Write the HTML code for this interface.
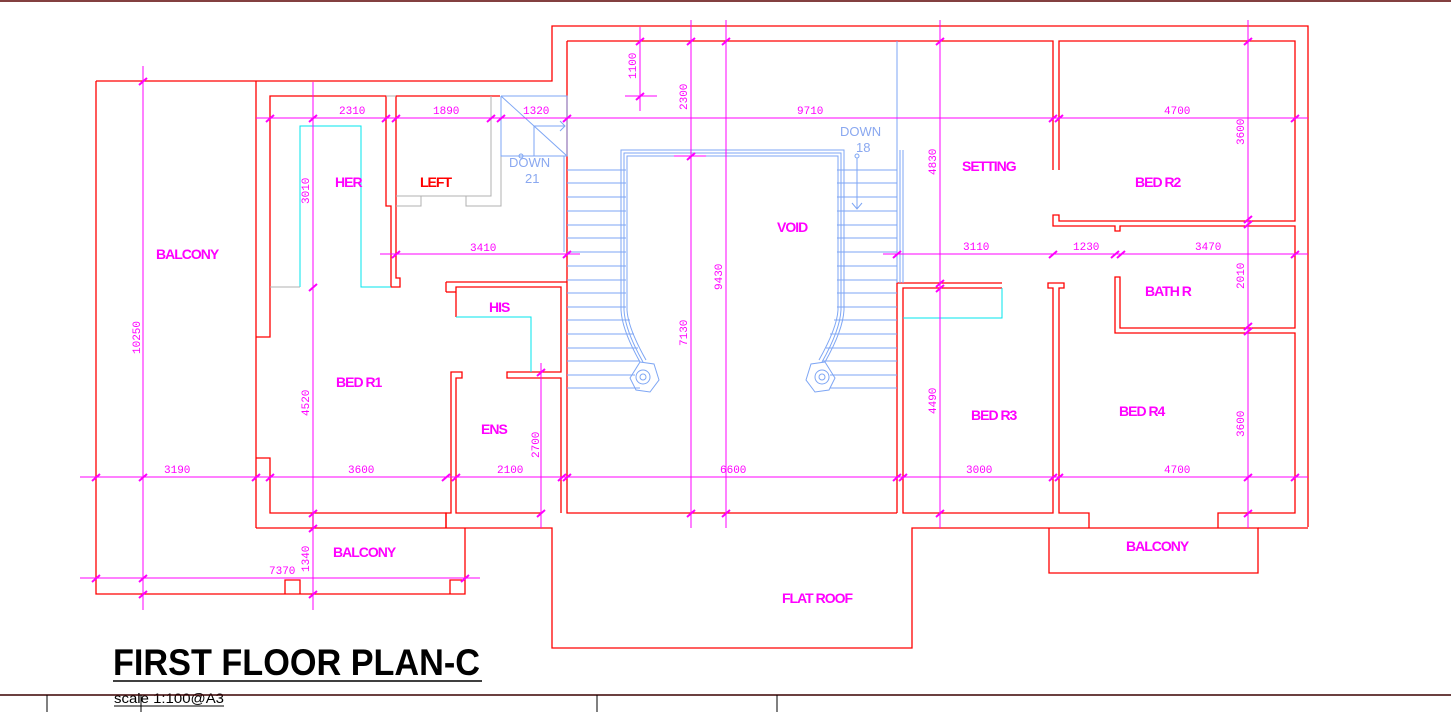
<!DOCTYPE html>
<html><head><meta charset="utf-8"><style>
html,body{margin:0;padding:0;background:#fff;}
svg{display:block;}
.w{stroke:#ff0000;stroke-width:1.3;fill:none;}
.d{stroke:#ff00ff;stroke-width:1;fill:none;}
.b{stroke:#7ea6f4;stroke-width:1;fill:none;}
.c{stroke:#00e5ee;stroke-width:1;fill:none;}
.g{stroke:#b0b0b0;stroke-width:1;fill:none;}
.t{font-family:"Liberation Mono",monospace;font-size:11px;fill:#ff00ff;}
.r{font-family:"Liberation Sans",sans-serif;font-size:14px;font-weight:bold;fill:#ff00ff;letter-spacing:-1px;}
.bl{font-family:"Liberation Sans",sans-serif;font-size:13px;fill:#8aa8f0;}
</style></head><body>
<svg width="1451" height="712" viewBox="0 0 1451 712" xmlns="http://www.w3.org/2000/svg">
<line x1="0" y1="1" x2="1451" y2="1" stroke="#5a0000" stroke-width="1.5"/>
<polyline class="w" points="96,81 552,81 552,26 1308,26 1308,527"/>
<polyline class="w" points="96,81 96,594 465,594 465,528"/>
<polyline class="w" points="285,594 285,580 300,580 300,594"/>
<polyline class="w" points="450,594 450,580 465,580"/>
<line class="w" x1="256" y1="81" x2="256" y2="528"/>
<polyline class="w" points="256,528 552,528 552,648 912,648 912,528 1049,528"/>
<polyline class="w" points="1049,528 1049,573 1258,573 1258,528 1049,528"/>
<line class="w" x1="1258" y1="528" x2="1308" y2="528"/>
<polyline class="w" points="256,337 270,337 270,96 386,96 386,206 391,206 391,287 400,287 400,278 396,278 396,96 500,96"/>
<polyline class="w" points="256,458 270,458 270,513 313,513 313,528"/>
<polyline class="w" points="313,513 446,513 446,528"/>
<polyline class="w" points="446,528 446,513 451,513 451,372 462,372 462,378 456,378 456,513 541,513"/>
<polyline class="w" points="446,282 567,282"/>
<polyline class="w" points="456,317 456,287 561,287 561,372 507,372 507,378 561,378 561,513"/>
<line class="w" x1="446" y1="282" x2="446" y2="292"/>
<polyline class="w" points="446,292 456,292"/>
<polyline class="w" points="567,41 567,513 897,513"/>
<polyline class="w" points="567,41 1053,41 1053,170"/>
<polyline class="w" points="1059,170 1059,41 1295,41 1295,221 1059,221 1059,215 1053,215 1053,226 1115,226 1115,231 1120,231 1120,226 1295,226 1295,328 1120,328 1120,277 1115,277 1115,333 1295,333 1295,513 1218,513 1218,528"/>
<polyline class="w" points="1089,528 1089,513 1059,513 1059,288 1064,288 1064,283 1048,283 1048,288 1053,288 1053,513 903,513 903,288 1002,288"/>
<polyline class="w" points="897,513 897,283 1002,283"/>
<polyline class="g" points="386,96 396,96"/>
<polyline class="g" points="396,196 491,196 491,96"/>
<polyline class="g" points="396,206 421,206 421,196"/>
<polyline class="g" points="466,196 466,206 501,206 501,96"/>
<polyline class="c" points="300,287 300,126 361,126 361,287 391,287"/>
<line class="g" x1="270" y1="287" x2="300" y2="287"/>
<polyline class="c" points="456,317 531,317 531,372"/>
<polyline class="c" points="903,318 1002,318 1002,288"/>
<polyline class="b" points="501,96 567,96 567,156 501,156 501,96"/>
<line class="b" x1="501" y1="96" x2="567" y2="156"/>
<line class="b" x1="534" y1="156" x2="534" y2="126"/>
<line class="b" x1="534" y1="126" x2="565" y2="126"/>
<polyline class="b" points="560,121 565,126 560,131"/>
<line class="b" x1="564" y1="156" x2="564" y2="252"/>
<line class="b" x1="897" y1="41" x2="897" y2="283"/>
<line class="b" x1="900" y1="150" x2="900" y2="283"/>
<line class="b" x1="903" y1="150" x2="903" y2="283"/>
<g class="b">
<line x1="567" y1="170" x2="626" y2="170"/><line x1="567" y1="183" x2="626" y2="183"/><line x1="567" y1="197" x2="626" y2="197"/><line x1="567" y1="211" x2="626" y2="211"/><line x1="567" y1="225" x2="626" y2="225"/><line x1="567" y1="238" x2="626" y2="238"/><line x1="567" y1="252" x2="626" y2="252"/><line x1="567" y1="266" x2="626" y2="266"/><line x1="567" y1="280" x2="626" y2="280"/><line x1="567" y1="293" x2="626" y2="293"/><line x1="567" y1="307" x2="626" y2="307"/><line x1="567" y1="320" x2="630" y2="320"/><line x1="567" y1="334" x2="634" y2="334"/><line x1="567" y1="348" x2="638" y2="348"/><line x1="567" y1="361" x2="640" y2="361"/><line x1="567" y1="375" x2="635" y2="375"/><line x1="567" y1="388" x2="640" y2="388"/>
<line x1="837" y1="170" x2="897" y2="170"/><line x1="837" y1="183" x2="897" y2="183"/><line x1="837" y1="197" x2="897" y2="197"/><line x1="837" y1="211" x2="897" y2="211"/><line x1="837" y1="225" x2="897" y2="225"/><line x1="837" y1="238" x2="897" y2="238"/><line x1="837" y1="252" x2="897" y2="252"/><line x1="837" y1="266" x2="897" y2="266"/><line x1="837" y1="280" x2="897" y2="280"/><line x1="837" y1="293" x2="897" y2="293"/><line x1="837" y1="307" x2="897" y2="307"/><line x1="834" y1="320" x2="897" y2="320"/><line x1="830" y1="334" x2="897" y2="334"/><line x1="826" y1="348" x2="897" y2="348"/><line x1="823" y1="361" x2="897" y2="361"/><line x1="830" y1="375" x2="897" y2="375"/><line x1="830" y1="388" x2="897" y2="388"/>
<polyline points="621,310 621,150 844,150 844,310"/>
<polyline points="624,310 624,153 841,153 841,310"/>
<polyline points="627,310 627,156 838,156 838,310"/>
<path d="M621,310 Q622,330 640,362 M624,310 Q625,330 643,362 M627,310 Q628,328 646,360"/>
<path d="M844,310 Q843,330 825,362 M841,310 Q840,330 822,362 M838,310 Q837,328 819,360"/>
<polygon points="640,362 654,364 659,380 650,392 636,390 630,378"/>
<circle cx="643" cy="377" r="7"/><circle cx="643" cy="377" r="3"/>
<polygon points="825,362 811,364 806,380 815,392 829,390 835,378"/>
<circle cx="822" cy="377" r="7"/><circle cx="822" cy="377" r="3"/>
<circle cx="857" cy="156" r="2"/><line x1="857" y1="158" x2="857" y2="209"/><polyline points="852,203 857,209 862,203"/>
<circle cx="521" cy="156" r="2"/>
</g>
<text class="bl" x="509" y="167">DOWN</text><text class="bl" x="525" y="183">21</text>
<text class="bl" x="840" y="136">DOWN</text><text class="bl" x="856" y="152">18</text>
<g class="d">
<line x1="256" y1="118" x2="1308" y2="118"/>
<line x1="380" y1="254" x2="580" y2="254"/>
<line x1="883" y1="254" x2="1308" y2="254"/>
<line x1="80" y1="477" x2="1308" y2="477"/>
<line x1="80" y1="578" x2="480" y2="578"/>
<line x1="143" y1="66" x2="143" y2="610"/>
<line x1="313" y1="82" x2="313" y2="610"/>
<line x1="691" y1="20" x2="691" y2="528"/>
<line x1="726" y1="20" x2="726" y2="528"/>
<line x1="940" y1="20" x2="940" y2="528"/>
<line x1="1248" y1="20" x2="1248" y2="528"/>
<line x1="541" y1="363" x2="541" y2="528"/>
<line x1="640" y1="27" x2="640" y2="111"/>
<line x1="625" y1="96" x2="657" y2="96"/>
<line x1="674" y1="156" x2="706" y2="156"/>
</g>
<g stroke="#ff00ff" stroke-width="2">
<path d="M139,85l8,-7M139,481l8,-7M139,582l8,-7M139,598l8,-7M309,122l8,-7M309,291l8,-7M309,517l8,-7M309,532l8,-7M309,598l8,-7M92,481l8,-7M92,582l8,-7M252,481l8,-7M266,481l8,-7M442,481l8,-7M452,481l8,-7M558,481l8,-7M563,481l8,-7M893,481l8,-7M899,481l8,-7M1049,481l8,-7M1055,481l8,-7M1291,481l8,-7M1244,481l8,-7M461,582l8,-7M266,122l8,-7M382,122l8,-7M392,122l8,-7M487,122l8,-7M497,122l8,-7M563,122l8,-7M1049,122l8,-7M1055,122l8,-7M1291,122l8,-7M636,45l8,-7M687,45l8,-7M722,45l8,-7M936,45l8,-7M1244,45l8,-7M636,100l8,-7M687,160l8,-7M392,258l8,-7M563,258l8,-7M893,258l8,-7M1049,258l8,-7M1111,258l8,-7M1117,258l8,-7M1291,258l8,-7M936,287l8,-7M936,292l8,-7M1244,223l8,-7M1244,228l8,-7M1244,330l8,-7M1244,335l8,-7M1244,517l8,-7M936,517l8,-7M537,376l8,-7M537,517l8,-7M687,517l8,-7M722,517l8,-7"/>
</g>
<g class="t">
<text x="339" y="114">2310</text><text x="433" y="114">1890</text><text x="523" y="114">1320</text>
<text x="797" y="114">9710</text><text x="1164" y="114">4700</text>
<text x="470" y="251">3410</text><text x="963" y="250">3110</text><text x="1073" y="250">1230</text><text x="1195" y="250">3470</text>
<text x="164" y="473">3190</text><text x="348" y="473">3600</text><text x="497" y="473">2100</text><text x="720" y="473">6600</text><text x="966" y="473">3000</text><text x="1164" y="473">4700</text>
<text x="269" y="574">7370</text>
<text transform="translate(309,204) rotate(-90)">3010</text>
<text transform="translate(140,354) rotate(-90)">10250</text>
<text transform="translate(309,416) rotate(-90)">4520</text>
<text transform="translate(309,572) rotate(-90)">1340</text>
<text transform="translate(539,458) rotate(-90)">2700</text>
<text transform="translate(636,79) rotate(-90)">1100</text>
<text transform="translate(687,110) rotate(-90)">2300</text>
<text transform="translate(687,346) rotate(-90)">7130</text>
<text transform="translate(722,290) rotate(-90)">9430</text>
<text transform="translate(936,175) rotate(-90)">4830</text>
<text transform="translate(936,414) rotate(-90)">4490</text>
<text transform="translate(1244,145) rotate(-90)">3600</text>
<text transform="translate(1244,289) rotate(-90)">2010</text>
<text transform="translate(1244,437) rotate(-90)">3600</text>
</g>
<g class="r">
<text x="156" y="259">BALCONY</text>
<text x="335" y="187">HER</text>
<text x="420" y="187" style="fill:#ff0000">LEFT</text>
<text x="489" y="312">HIS</text>
<text x="336" y="387">BED R1</text>
<text x="481" y="434">ENS</text>
<text x="777" y="232">VOID</text>
<text x="962" y="171">SETTING</text>
<text x="1135" y="187">BED R2</text>
<text x="1145" y="296">BATH R</text>
<text x="971" y="420">BED R3</text>
<text x="1119" y="416">BED R4</text>
<text x="333" y="557">BALCONY</text>
<text x="1126" y="551">BALCONY</text>
<text x="782" y="603">FLAT ROOF</text>
</g>
<text x="113" y="675" font-family="Liberation Sans, sans-serif" font-size="37" font-weight="bold" fill="#000" textLength="367" lengthAdjust="spacingAndGlyphs">FIRST FLOOR PLAN-C</text>
<line x1="113" y1="681" x2="482" y2="681" stroke="#000" stroke-width="1.5"/>
<text x="114" y="703" font-family="Liberation Sans, sans-serif" font-size="14" fill="#000" textLength="110" lengthAdjust="spacingAndGlyphs">scale 1:100@A3</text>
<line x1="114" y1="706" x2="224" y2="706" stroke="#000" stroke-width="1"/>
<line x1="0" y1="695" x2="1451" y2="695" stroke="#3a0000" stroke-width="1.5"/>
<line x1="47" y1="695" x2="47" y2="712" stroke="#000"/>
<line x1="141" y1="695" x2="141" y2="712" stroke="#000"/>
<line x1="597" y1="695" x2="597" y2="712" stroke="#000"/>
<line x1="777" y1="695" x2="777" y2="712" stroke="#000"/>
</svg>
</body></html>
